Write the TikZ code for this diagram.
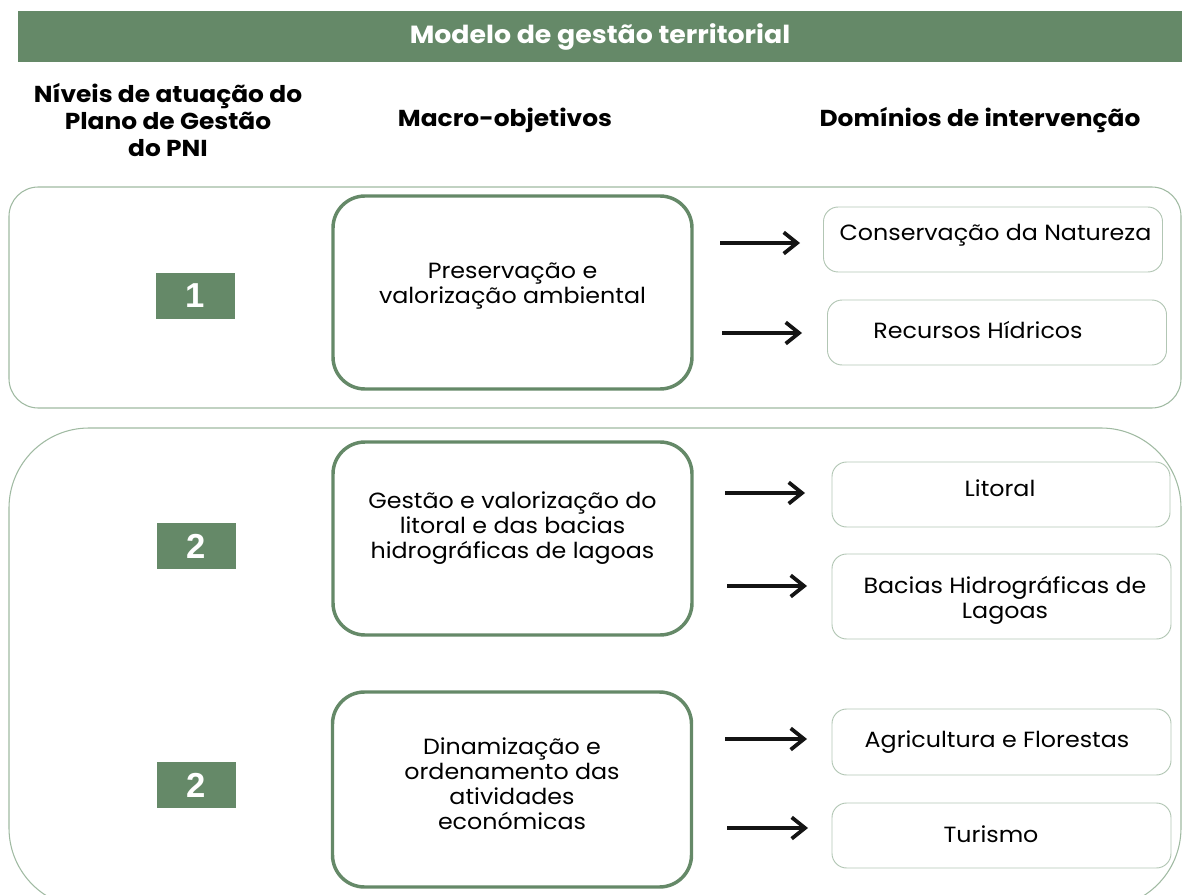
\documentclass[tikz,border=0pt]{standalone}
\usepackage{fontspec}
\setmainfont{Poppins}[FakeStretch=1.08]
\newfontfamily\numfont{Liberation Sans}
\usetikzlibrary{arrows.meta}
\definecolor{pgreen}{RGB}{101,137,104}
\definecolor{cline}{RGB}{160,186,162}
\definecolor{dline}{RGB}{178,198,180}
\definecolor{arrblack}{RGB}{20,20,20}
\tikzset{
  hdrbox/.style={fill=pgreen,draw=none,inner sep=0pt,outer sep=0pt,minimum width=873pt,minimum height=38.25pt,text=white,font=\fontsize{18.6}{22}\selectfont\bfseries},
  colhead/.style={align=center,font=\fontsize{17.3}{20.25}\selectfont\bfseries,inner sep=0pt},
  container/.style={draw=cline,line width=0.8pt},
  macrobox/.style={draw=pgreen,line width=2.6pt,rounded corners=24pt,minimum width=269.25pt,inner sep=0pt,outer sep=0pt},
  macrotxt/.style={align=center,font=\fontsize{16.5}{18.75}\selectfont,inner sep=0pt},
  numbox/.style={fill=pgreen,minimum width=59.25pt,minimum height=34.5pt,inner sep=0pt,text=white,font=\numfont\fontsize{26}{28}\selectfont\bfseries},
  dombox/.style={draw=dline,line width=0.7pt,rounded corners=11pt,minimum width=254.25pt,inner sep=0pt,outer sep=0pt},
  domtxt/.style={align=center,font=\fontsize{16.5}{18.75}\selectfont,inner sep=0pt},
  arr/.style={draw=arrblack,line width=2.8pt,-{Straight Barb[length=10pt,width=16pt]}}
}
\begin{document}
\begin{tikzpicture}[x=0.75pt,y=-0.75pt]
\useasboundingbox (0,0) rectangle (1182,895);
\clip (0,0) rectangle (1182,895);
% containers
\draw[container,rounded corners=22pt] (9,187) rectangle (1181,408);
\draw[container,rounded corners=60pt] (9,428) rectangle (1181,908);
% header
\node[hdrbox] (hdr) at (600,36.5) {Modelo de gestão territorial};
% column headings
\node[colhead] (h1) at (168,120) {Níveis de atuação do\\Plano de Gestão\\do PNI};
\node[colhead] (h2) at (505,120) {Macro-objetivos};
\node[colhead] (h3) at (980,120) {Domínios de intervenção};
% level numbers
\node[numbox] (n1) at (195.5,296) {1};
\node[numbox] (n2) at (196.5,546) {2};
\node[numbox] (n3) at (196.5,785) {2};
% macro boxes
\node[macrobox,minimum height=144.75pt] (m1) at (512.5,292.5) {};
\node[macrobox,minimum height=144.75pt] (m2) at (512.5,538.5) {};
\node[macrobox,minimum height=146.25pt] (m3) at (512,789.5) {};
\node[macrotxt] (t1) at (m1.center) [yshift=5pt] {Preservação e\\valorização ambiental};
\node[macrotxt] (t2) at (m2.center) [yshift=8pt] {Gestão e valorização do\\litoral e das bacias\\hidrográficas de lagoas};
\node[macrotxt] (t3) at (m3.center) [yshift=4pt] {Dinamização e\\ordenamento das\\atividades\\económicas};
% domain boxes
\node[dombox,minimum height=48.75pt] (d1) at (993,239.5) {};
\node[dombox,minimum height=48.75pt] (d2) at (997,332.5) {};
\node[dombox,minimum height=48.75pt,minimum width=253.5pt] (d3) at (1001,494.5) {};
\node[dombox,minimum height=63.75pt] (d4) at (1001.5,596.5) {};
\node[dombox,minimum height=49.5pt] (d5) at (1001.5,742) {};
\node[dombox,minimum height=48.75pt] (d6) at (1001.5,835.5) {};
\node[domtxt] (e1) at (995.5,235) {Conservação da Natureza};
\node[domtxt] (e2) at (978,330) {Recursos Hídricos};
\node[domtxt] (e3) at (1000,488) {Litoral};
\node[domtxt] (e4) at (1005,600) {Bacias Hidrográficas de\\Lagoas};
\node[domtxt] (e5) at (997,742) {Agricultura e Florestas};
\node[domtxt] (e6) at (991,834) {Turismo};
% arrows
\coordinate (a1s) at (720,243); \coordinate (a1e) at (800,243);
\coordinate (a2s) at (722,333); \coordinate (a2e) at (802,333);
\coordinate (a3s) at (725,493); \coordinate (a3e) at (805,493);
\coordinate (a4s) at (727,586); \coordinate (a4e) at (807,586);
\coordinate (a5s) at (725,739); \coordinate (a5e) at (807,739);
\coordinate (a6s) at (727,828); \coordinate (a6e) at (808,828);
\draw[arr] (a1s) -- (a1e);
\draw[arr] (a2s) -- (a2e);
\draw[arr] (a3s) -- (a3e);
\draw[arr] (a4s) -- (a4e);
\draw[arr] (a5s) -- (a5e);
\draw[arr] (a6s) -- (a6e);
\end{tikzpicture}
\end{document}
